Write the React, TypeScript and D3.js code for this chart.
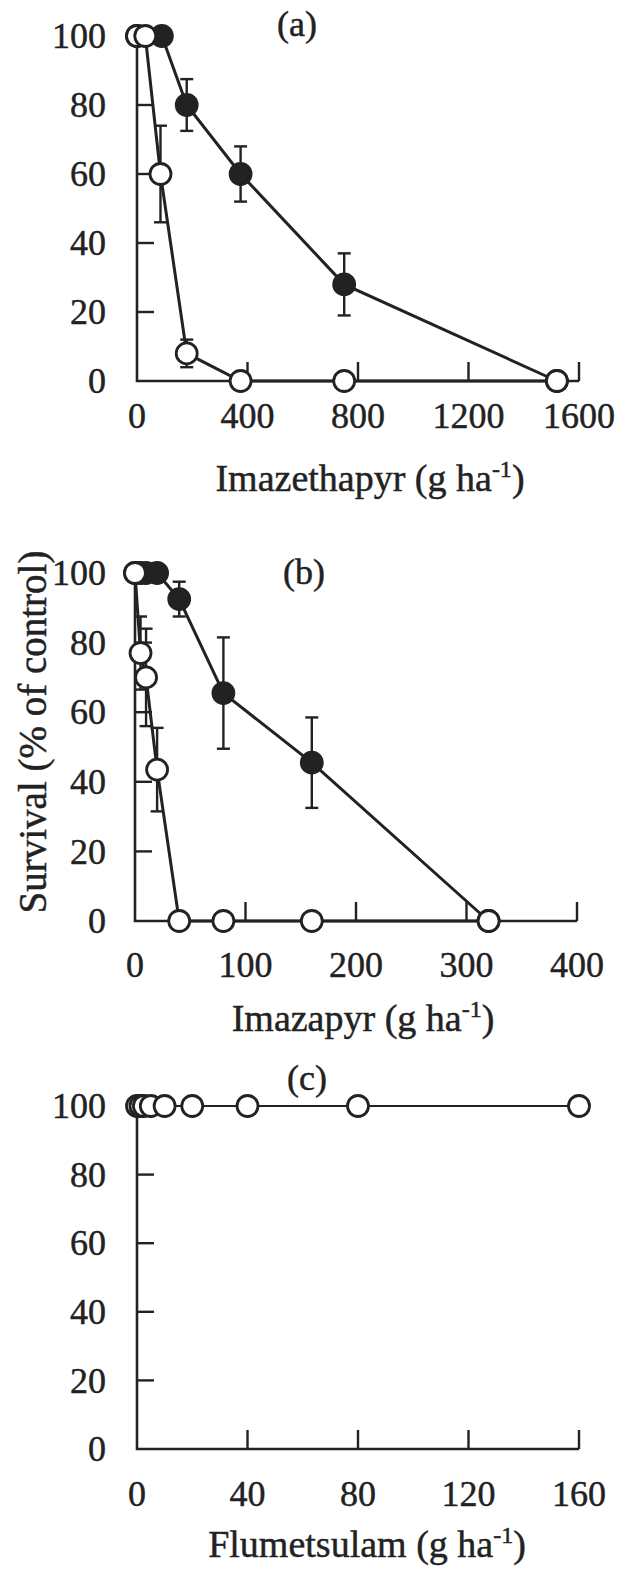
import React from "react";
import * as d3 from "d3";

// Panel (a): imazethapyr dose response
const imazethapyrDoseS = [0, 30, 85, 180, 375, 750, 1520];
const imazethapyrSurvS = [100, 100, 60, 8, 0, 0, 0];
const imazethapyrErrS = [0, 0, 14, 4, 0, 0, 0];
const imazethapyrDoseR = [0, 90, 180, 375, 750, 1520];
const imazethapyrSurvR = [100, 100, 80, 60, 28, 0];
const imazethapyrErrR = [0, 0, 7.5, 8, 9, 0];
const imazethapyrTicks = [0, 400, 800, 1200, 1600];

// Panel (b): imazapyr dose response
const imazapyrDoseS = [0, 5, 10, 20, 40, 80, 160, 320];
const imazapyrSurvS = [100, 77, 70, 43.5, 0, 0, 0, 0];
const imazapyrErrS = [0, 10.5, 14, 12, 0, 0, 0, 0];
const imazapyrDoseR = [0, 5, 10, 20, 40, 80, 160, 320];
const imazapyrSurvR = [100, 100, 100, 100, 92.5, 65.5, 45.5, 0];
const imazapyrErrR = [0, 0, 0, 0, 5, 16, 13, 0];
const imazapyrTicks = [0, 100, 200, 300, 400];

// Panel (c): flumetsulam dose response
const flumetsulamDose = [0, 1.25, 2.5, 5, 10, 20, 40, 80, 160];
const flumetsulamSurv = [100, 100, 100, 100, 100, 100, 100, 100, 100];
const flumetsulamTicks = [0, 40, 80, 120, 160];

const survivalTicks = [0, 20, 40, 60, 80, 100];

type Series = { dose: number[]; surv: number[]; err?: number[]; filled: boolean };

type PanelSpec = {
  tag: string;
  herbicide: string;
  xMax: number;
  xTicks: number[];
  x0: number;
  x1: number;
  yTop: number;
  yBottom: number;
  tagX: number;
  tagY: number;
  tickLabelY: number;
  titleX: number;
  titleY: number;
  lineWidth: number;
  series: Series[];
};

const INK = "#222";
const FONT = "'Times New Roman', 'Liberation Serif', Times, serif";
const TICK_FS = 36;
const TITLE_FS = 38;

// light outline on glyphs for a slightly heavier print weight
const textStyle = { fill: INK, stroke: INK, strokeWidth: 0.45, fontFamily: FONT } as const;

const panels: PanelSpec[] = [
  {
    tag: "(a)",
    herbicide: "Imazethapyr",
    xMax: 1600,
    xTicks: imazethapyrTicks,
    x0: 137,
    x1: 579,
    yTop: 36,
    yBottom: 381,
    tagX: 297,
    tagY: 36,
    tickLabelY: 428,
    titleX: 370,
    titleY: 491,
    lineWidth: 3,
    series: [
      { dose: imazethapyrDoseR, surv: imazethapyrSurvR, err: imazethapyrErrR, filled: true },
      { dose: imazethapyrDoseS, surv: imazethapyrSurvS, err: imazethapyrErrS, filled: false },
    ],
  },
  {
    tag: "(b)",
    herbicide: "Imazapyr",
    xMax: 400,
    xTicks: imazapyrTicks,
    x0: 135,
    x1: 577,
    yTop: 573,
    yBottom: 921,
    tagX: 304,
    tagY: 584,
    tickLabelY: 977,
    titleX: 363,
    titleY: 1031,
    lineWidth: 3,
    series: [
      { dose: imazapyrDoseR, surv: imazapyrSurvR, err: imazapyrErrR, filled: true },
      { dose: imazapyrDoseS, surv: imazapyrSurvS, err: imazapyrErrS, filled: false },
    ],
  },
  {
    tag: "(c)",
    herbicide: "Flumetsulam",
    xMax: 160,
    xTicks: flumetsulamTicks,
    x0: 137,
    x1: 579,
    yTop: 1106,
    yBottom: 1449,
    tagX: 307,
    tagY: 1090,
    tickLabelY: 1506,
    titleX: 367,
    titleY: 1557,
    lineWidth: 2.2,
    series: [{ dose: flumetsulamDose, surv: flumetsulamSurv, filled: false }],
  },
];

function Panel({ p }: { p: PanelSpec }) {
  const x = d3.scaleLinear().domain([0, p.xMax]).range([p.x0, p.x1]);
  const y = d3.scaleLinear().domain([0, 100]).range([p.yBottom, p.yTop]);
  const line = d3
    .line<[number, number]>()
    .x((d) => x(d[0]))
    .y((d) => y(d[1]));

  return (
    <g>
      {/* axes */}
      <path
        d={`M${x(0)},${y(100)}V${y(0)}H${x(p.xMax)}`}
        fill="none"
        stroke={INK}
        strokeWidth={2.6}
      />
      {survivalTicks.filter((t) => t > 0).map((t) => (
        <line key={"yt" + t} x1={x(0)} x2={x(0) + 17} y1={y(t)} y2={y(t)} stroke={INK} strokeWidth={2.4} />
      ))}
      {p.xTicks.filter((t) => t > 0).map((t) => (
        <line key={"xt" + t} x1={x(t)} x2={x(t)} y1={y(0)} y2={y(0) - 19} stroke={INK} strokeWidth={2.4} />
      ))}
      {survivalTicks.map((t) => (
        <text key={"yl" + t} x={106} y={y(t)} dy="0.34em" textAnchor="end" fontSize={TICK_FS} style={textStyle}>
          {t}
        </text>
      ))}
      {p.xTicks.map((t) => (
        <text key={"xl" + t} x={x(t)} y={p.tickLabelY} textAnchor="middle" fontSize={TICK_FS} style={textStyle}>
          {t}
        </text>
      ))}
      <text x={p.tagX} y={p.tagY} textAnchor="middle" fontSize={TICK_FS} style={textStyle}>
        {p.tag}
      </text>
      <text x={p.titleX} y={p.titleY} textAnchor="middle" fontSize={TITLE_FS} style={textStyle}>
        {p.herbicide} (g ha
        <tspan dy={-14} fontSize={24}>-1</tspan>
        <tspan dy={14}>)</tspan>
      </text>

      {/* series: line, error bars, markers */}
      {p.series.map((s, si) => {
        const pts = s.dose.map((d, i) => [d, s.surv[i]] as [number, number]);
        return (
          <g key={"s" + si}>
            <path d={line(pts) ?? ""} fill="none" stroke={INK} strokeWidth={p.lineWidth} />
            {s.err &&
              pts.map((pt, i) => {
                const e = s.err![i];
                if (!e) return null;
                const cx = x(pt[0]);
                const yt = y(pt[1] + e);
                const yb = y(pt[1] - e);
                return (
                  <g key={"e" + i} stroke={INK} strokeWidth={2.4}>
                    <line x1={cx} x2={cx} y1={yt} y2={yb} />
                    <line x1={cx - 6.5} x2={cx + 6.5} y1={yt} y2={yt} />
                    <line x1={cx - 6.5} x2={cx + 6.5} y1={yb} y2={yb} />
                  </g>
                );
              })}
            {pts.map((pt, i) => (
              <circle
                key={"m" + i}
                cx={x(pt[0])}
                cy={y(pt[1])}
                r={10.5}
                fill={s.filled ? INK : "#fff"}
                stroke={INK}
                strokeWidth={2.8}
              />
            ))}
          </g>
        );
      })}
    </g>
  );
}

export default function App() {
  return (
    <svg
      width={617}
      height={1576}
      viewBox="0 0 617 1576"
      style={{ position: "absolute", left: 0, top: 0, background: "#fff" }}
    >
      <rect width={617} height={1576} fill="#fff" />
      {panels.map((p) => (
        <Panel key={p.tag} p={p} />
      ))}
      <text transform="translate(46,732) rotate(-90)" textAnchor="middle" fontSize={39} style={textStyle}>
        Survival (% of control)
      </text>
    </svg>
  );
}
